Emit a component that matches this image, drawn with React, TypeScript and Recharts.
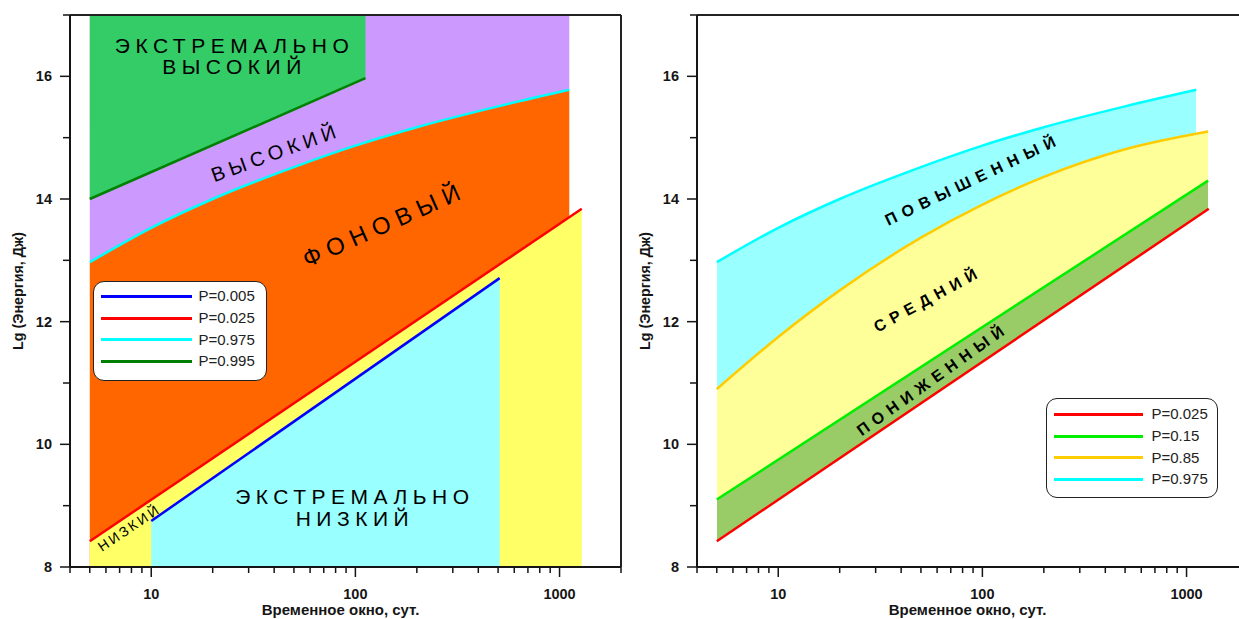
import React from 'react';
import { ComposedChart, Area, Line, XAxis, YAxis, ReferenceLine, ReferenceDot, Legend } from 'recharts';

const FONT = '"Liberation Sans", Arial, Helvetica, sans-serif';

// Axes
const X_DOMAIN = [4, 2000];
const Y_DOMAIN = [8, 17];
const X_TICKS = [4, 5, 6, 7, 8, 9, 10, 20, 30, 40, 50, 60, 70, 80, 90, 100, 200, 300, 400, 500, 600, 700, 800, 900, 1000, 2000];
const X_LABELED = [10, 100, 1000];
const Y_TICKS = [8, 9, 10, 11, 12, 13, 14, 15, 16, 17];
const Y_LABELED = [8, 10, 12, 14, 16];
const X_TITLE = 'Временное окно, сут.';
const Y_TITLE = 'Lg (Энергия, Дж)';

// Quantile curves: window (days) -> Lg(E)
const P005_X = [10, 509];
const P005_Y = [8.75, 12.71];
const P025_X = [5, 1285];
const P025_Y = [8.42, 13.84];
const P975_X = [5, 10, 20, 50, 100, 200, 500, 1116];
const P975_Y = [12.97, 13.53, 14.0, 14.52, 14.87, 15.17, 15.51, 15.78];
const P995_X = [5, 112];
const P995_Y = [14.0, 15.97];
const P015_X = [5, 1276];
const P015_Y = [9.1, 14.3];
const P085_X = [5, 10, 20, 50, 100, 200, 500, 1276];
const P085_Y = [10.9, 11.75, 12.51, 13.37, 13.91, 14.36, 14.81, 15.1];

const LEFT_LEGEND = [
  { label: 'P=0.005', color: '#0000FF' },
  { label: 'P=0.025', color: '#FF0000' },
  { label: 'P=0.975', color: '#00FFFF' },
  { label: 'P=0.995', color: '#008000' },
];
const RIGHT_LEGEND = [
  { label: 'P=0.025', color: '#FF0000' },
  { label: 'P=0.15', color: '#00EE00' },
  { label: 'P=0.85', color: '#FFCC00' },
  { label: 'P=0.975', color: '#00FFFF' },
];

// Zone captions (anchored in data coordinates)
const LEFT_CAPTIONS = [
  { lines: ['ЭКСТРЕМАЛЬНО', 'ВЫСОКИЙ'], x: 24.8, y: 16.33, angle: 0, size: 21, spacing: 5.5, bold: false },
  { lines: ['ВЫСОКИЙ'], x: 39.6, y: 14.75, angle: -20, size: 20, spacing: 5, bold: false },
  { lines: ['ФОНОВЫЙ'], x: 133.7, y: 13.57, angle: -24, size: 24, spacing: 7, bold: false },
  { lines: ['НИЗКИЙ'], x: 7.7, y: 8.63, angle: -34, size: 14, spacing: 2.6, bold: false },
  { lines: ['ЭКСТРЕМАЛЬНО', 'НИЗКИЙ'], x: 96.4, y: 8.97, angle: 0, size: 21, spacing: 5.5, bold: false },
];
const RIGHT_CAPTIONS = [
  { lines: ['ПОВЫШЕННЫЙ'], x: 87.1, y: 14.3, angle: -25.5, size: 16, spacing: 6.5, bold: true },
  { lines: ['СРЕДНИЙ'], x: 52.5, y: 12.35, angle: -28.5, size: 16, spacing: 6, bold: true },
  { lines: ['ПОНИЖЕННЫЙ'], x: 55.5, y: 11.04, angle: -35.5, size: 16, spacing: 6, bold: true },
];

const rows = (xs: number[], ys: number[]) => xs.map((x, i) => ({ x, y: ys[i] }));
const p005 = rows(P005_X, P005_Y);
const p025 = rows(P025_X, P025_Y);
const p975 = rows(P975_X, P975_Y);
const p995 = rows(P995_X, P995_Y);
const p015 = rows(P015_X, P015_Y);
const p085 = rows(P085_X, P085_Y);

const AX = '#151515';

const XTick = (props: any) => {
  const { x, y, payload } = props;
  const v = payload.value;
  const major = X_LABELED.includes(v);
  return (
    <g>
      <line x1={x} x2={x} y1={y} y2={y + (major ? 10 : 6)} stroke={AX} strokeWidth={1.5} />
      {major && (
        <text x={x} y={y + 32} textAnchor="middle" fontFamily={FONT} fontWeight={700} fontSize={14.5} fill={AX}>
          {v}
        </text>
      )}
    </g>
  );
};

const YTick = (props: any) => {
  const { x, y, payload } = props;
  const v = payload.value;
  const major = Y_LABELED.includes(v);
  return (
    <g>
      <line x1={x - (major ? 10 : 7)} x2={x} y1={y} y2={y} stroke={AX} strokeWidth={1.5} />
      {major && (
        <text x={x - 18} y={y + 5} textAnchor="end" fontFamily={FONT} fontWeight={700} fontSize={14.5} fill={AX}>
          {v}
        </text>
      )}
    </g>
  );
};

const XTitle = (props: any) => {
  const vb = props.viewBox;
  return (
    <text x={vb.x + vb.width / 2 - 5} y={vb.y + 48} textAnchor="middle" fontFamily={FONT} fontWeight={700} fontSize={15} fill={AX}>
      {X_TITLE}
    </text>
  );
};

const YTitle = (props: any) => {
  const vb = props.viewBox;
  const cx = vb.x - 2;
  const cy = vb.y + vb.height / 2;
  return (
    <text x={cx} y={cy} transform={`rotate(-90 ${cx} ${cy})`} textAnchor="middle" dominantBaseline="central" fontFamily={FONT} fontWeight={700} fontSize={14.3} fill={AX}>
      {Y_TITLE}
    </text>
  );
};

const makeCaption = (c: any) => (p: any) => {
  const cx = p.cx;
  const cy = p.cy;
  const lh = c.size * 1.03;
  const n = c.lines.length;
  return (
    <g transform={`rotate(${c.angle} ${cx} ${cy})`}>
      {c.lines.map((ln: string, i: number) => (
        <text
          key={i}
          x={cx + c.spacing / 2}
          y={cy + (i - (n - 1) / 2) * lh + c.size * 0.36}
          textAnchor="middle"
          fontFamily={FONT}
          fontWeight={c.bold ? 700 : 400}
          fontSize={c.size}
          letterSpacing={c.spacing}
          fill="#000"
        >
          {ln}
        </text>
      ))}
    </g>
  );
};

const LegendBox = ({ items, width, lineW, gap, padTop }: any) => (
  <div
    style={{
      width,
      height: 100,
      boxSizing: 'border-box',
      background: '#fff',
      border: '1.5px solid #222',
      borderRadius: 11,
      paddingTop: padTop,
      paddingLeft: 6.5,
      fontFamily: FONT,
    }}
  >
    {items.map((it: any) => (
      <div key={it.label} style={{ display: 'flex', alignItems: 'center', height: 21.7 }}>
        <div style={{ width: lineW, height: 3, background: it.color }} />
        <span style={{ marginLeft: gap, fontSize: 15, color: '#222', lineHeight: '16px' }}>{it.label}</span>
      </div>
    ))}
  </div>
);

const W = 640;
const H = 619;
const MARGIN = { top: 15, right: 19, left: 20, bottom: 22 };

const axes = [
  <XAxis
    key="x"
    dataKey="x"
    type="number"
    scale="log"
    domain={X_DOMAIN}
    ticks={X_TICKS}
    interval={0}
    allowDataOverflow
    tick={<XTick />}
    tickLine={false}
    tickSize={0}
    tickMargin={0}
    height={30}
    axisLine={{ stroke: AX, strokeWidth: 2 }}
    label={{ content: <XTitle /> } as any}
  />,
  <YAxis
    key="y"
    type="number"
    domain={Y_DOMAIN}
    ticks={Y_TICKS}
    interval={0}
    allowDataOverflow
    tick={<YTick />}
    tickLine={false}
    tickSize={0}
    tickMargin={0}
    width={50}
    axisLine={{ stroke: AX, strokeWidth: 2 }}
    label={{ content: <YTitle /> } as any}
  />,
  <ReferenceLine key="top" y={17} stroke="#222" strokeWidth={2} />,
  <ReferenceLine key="right" x={2000} stroke="#222" strokeWidth={2} />,
];

const CRISP: any = { shapeRendering: 'crispEdges' };

const LeftChart = () => (
  <ComposedChart width={W} height={H} margin={MARGIN}>
    {axes}
    <Area data={p975} dataKey={(d: any) => [d.y, 17]} type="monotone" fill="#CC99FF" fillOpacity={1} stroke="none" isAnimationActive={false} />
    <Area data={p975} dataKey={(d: any) => [8, d.y]} type="monotone" fill="#FF6600" fillOpacity={1} stroke="none" isAnimationActive={false} />
    <Area data={p995} dataKey={(d: any) => [d.y, 17]} type="linear" fill="#33CC66" fillOpacity={1} stroke="none" isAnimationActive={false} />
    <Area data={p025} dataKey={(d: any) => [8, d.y]} type="linear" fill="#FFFF66" fillOpacity={1} stroke="none" isAnimationActive={false} />
    <Area data={p005} dataKey={(d: any) => [8, d.y]} type="linear" fill="#99FFFF" fillOpacity={1} stroke="none" isAnimationActive={false} />
    <Line data={p995} dataKey="y" type="linear" stroke="#008000" strokeWidth={2.5} dot={false} isAnimationActive={false} />
    <Line data={p975} dataKey="y" type="monotone" stroke="#00FFFF" strokeWidth={2.5} dot={false} isAnimationActive={false} />
    <Line data={p025} dataKey="y" type="linear" stroke="#FF0000" strokeWidth={2.5} dot={false} isAnimationActive={false} />
    <Line data={p005} dataKey="y" type="linear" stroke="#0000FF" strokeWidth={2.5} dot={false} isAnimationActive={false} />
    {LEFT_CAPTIONS.map((c, i) => (
      <ReferenceDot key={i} x={c.x} y={c.y} r={0} ifOverflow="visible" shape={makeCaption(c) as any} />
    ))}
    <Legend
      layout="vertical"
      align="center"
      verticalAlign="middle"
      wrapperStyle={{ left: 93, top: 281, width: 174, height: 100 }}
      content={() => <LegendBox items={LEFT_LEGEND} width={174} lineW={91} gap={7} padTop={3.5} />}
    />
  </ComposedChart>
);

const RightChart = () => (
  <ComposedChart width={W} height={H} margin={MARGIN}>
    {axes}
    <Area data={p975} dataKey={(d: any) => [8, d.y]} type="monotone" fill="#99FFFF" fillOpacity={1} stroke="none" isAnimationActive={false} {...CRISP} />
    <Area data={p085} dataKey={(d: any) => [8, d.y]} type="monotone" fill="#FFFF99" fillOpacity={1} stroke="none" isAnimationActive={false} {...CRISP} />
    <Area data={p015} dataKey={(d: any) => [8, d.y]} type="linear" fill="#99CC66" fillOpacity={1} stroke="none" isAnimationActive={false} {...CRISP} />
    <Area data={p025} dataKey={(d: any) => [8, d.y]} type="linear" fill="#FFFFFF" fillOpacity={1} stroke="none" isAnimationActive={false} {...CRISP} />
    <Line data={p975} dataKey="y" type="monotone" stroke="#00FFFF" strokeWidth={2.5} dot={false} isAnimationActive={false} />
    <Line data={p085} dataKey="y" type="monotone" stroke="#FFCC00" strokeWidth={2.5} dot={false} isAnimationActive={false} />
    <Line data={p015} dataKey="y" type="linear" stroke="#00EE00" strokeWidth={2.5} dot={false} isAnimationActive={false} />
    <Line data={p025} dataKey="y" type="linear" stroke="#FF0000" strokeWidth={2.5} dot={false} isAnimationActive={false} />
    {RIGHT_CAPTIONS.map((c, i) => (
      <ReferenceDot key={i} x={c.x} y={c.y} r={0} ifOverflow="visible" shape={makeCaption(c) as any} />
    ))}
    <Legend
      layout="vertical"
      align="center"
      verticalAlign="middle"
      wrapperStyle={{ left: 419, top: 398, width: 172, height: 100 }}
      content={() => <LegendBox items={RIGHT_LEGEND} width={172} lineW={89} gap={9} padTop={4.5} />}
    />
  </ComposedChart>
);

export default function App() {
  return (
    <div style={{ position: 'absolute', left: 0, top: 0, width: 1239, height: 619, overflow: 'hidden', background: '#fff' }}>
      <div style={{ position: 'absolute', left: 0, top: 0 }}>
        <LeftChart />
      </div>
      <div style={{ position: 'absolute', left: 627, top: 0 }}>
        <RightChart />
      </div>
    </div>
  );
}
